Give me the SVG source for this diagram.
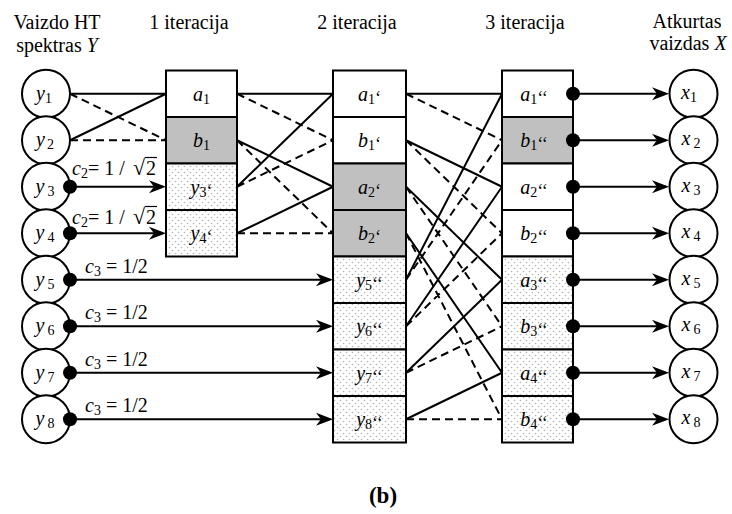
<svg xmlns="http://www.w3.org/2000/svg" width="732" height="514" viewBox="0 0 732 514">
<style>
.t{font-family:"Liberation Serif","Times New Roman",serif;font-size:20px;fill:#000}
.i{font-style:italic}
.sb{font-size:14px}
.cell{stroke:#000;stroke-width:2}
.w{fill:#fff}.g{fill:#c0c0c0}.p{fill:url(#dots)}
.circ{fill:#fff;stroke:#000;stroke-width:2}
.s{fill:none;stroke:#000;stroke-width:2}
.d{fill:none;stroke:#000;stroke-width:2;stroke-dasharray:8 5}
.a{fill:none;stroke:#000;stroke-width:2;marker-end:url(#arr)}
.dot{fill:#000}
</style>
<defs>
<pattern id="dots" width="6" height="6" patternUnits="userSpaceOnUse"><rect width="6" height="6" fill="#fff"/><circle cx="1.5" cy="1.5" r="0.8" fill="#b4b4b4"/><circle cx="4.5" cy="4.5" r="0.8" fill="#b4b4b4"/></pattern>
<marker id="arr" markerUnits="userSpaceOnUse" markerWidth="17" markerHeight="14" viewBox="0 0 17 14" refX="14" refY="7" orient="auto"><path d="M0,0.5 L17,7 L0,13.5 L5,7 Z" fill="#000"/></marker>
</defs>
<rect width="732" height="514" fill="#fff"/>

<g id="headers">
<text class="t" x="57" y="29" text-anchor="middle">Vaizdo HT</text>
<text class="t" x="57" y="52" text-anchor="middle">spektras <tspan class="i">Y</tspan></text>
<text class="t" x="189" y="29" text-anchor="middle">1 iteracija</text>
<text class="t" x="357" y="29" text-anchor="middle">2 iteracija</text>
<text class="t" x="525" y="29" text-anchor="middle">3 iteracija</text>
<text class="t" x="687" y="28" text-anchor="middle">Atkurtas</text>
<text class="t" x="688" y="50" text-anchor="middle">vaizdas <tspan class="i">X</tspan></text>
</g>

<g id="inputs">
<g id="y1"><circle class="circ" cx="46" cy="93.75" r="24"/><text class="t" x="44" y="99.75" text-anchor="middle"><tspan class="i">y</tspan><tspan class="sb" dy="3">1</tspan></text></g>
<g id="y2"><circle class="circ" cx="46" cy="140.25" r="24"/><text class="t" x="45" y="146.25" text-anchor="middle"><tspan class="i">y</tspan><tspan class="sb" dx="2" dy="3">2</tspan></text></g>
<g id="y3"><circle class="circ" cx="46" cy="186.75" r="24"/><text class="t" x="45" y="192.75" text-anchor="middle"><tspan class="i">y</tspan><tspan class="sb" dx="3" dy="3">3</tspan></text></g>
<g id="y4"><circle class="circ" cx="46" cy="233.25" r="24"/><text class="t" x="45" y="239.25" text-anchor="middle"><tspan class="i">y</tspan><tspan class="sb" dx="3" dy="3">4</tspan></text></g>
<g id="y5"><circle class="circ" cx="46" cy="279.75" r="24"/><text class="t" x="45" y="285.75" text-anchor="middle"><tspan class="i">y</tspan><tspan class="sb" dx="3" dy="3">5</tspan></text></g>
<g id="y6"><circle class="circ" cx="46" cy="326.25" r="24"/><text class="t" x="45" y="332.25" text-anchor="middle"><tspan class="i">y</tspan><tspan class="sb" dx="3" dy="3">6</tspan></text></g>
<g id="y7"><circle class="circ" cx="46" cy="372.75" r="24"/><text class="t" x="45" y="378.75" text-anchor="middle"><tspan class="i">y</tspan><tspan class="sb" dx="3" dy="3">7</tspan></text></g>
<g id="y8"><circle class="circ" cx="46" cy="419.25" r="24"/><text class="t" x="45" y="425.25" text-anchor="middle"><tspan class="i">y</tspan><tspan class="sb" dx="3" dy="3">8</tspan></text></g>
</g>

<g id="iter1">
<g id="c1a1"><rect class="cell w" x="166" y="70.5" width="71" height="46.5"/><text class="t" x="201.5" y="100.75" text-anchor="middle"><tspan class="i">a</tspan><tspan class="sb" dy="3">1</tspan></text></g>
<g id="c1b1"><rect class="cell g" x="166" y="117" width="71" height="46.5"/><text class="t" x="201.5" y="147.25" text-anchor="middle"><tspan class="i">b</tspan><tspan class="sb" dy="3">1</tspan></text></g>
<g id="c1y3"><rect class="cell p" x="166" y="163.5" width="71" height="46.5"/><text class="t" x="201.5" y="193.75" text-anchor="middle"><tspan class="i">y</tspan><tspan class="sb" dy="3">3</tspan><tspan font-size="18">‘</tspan></text></g>
<g id="c1y4"><rect class="cell p" x="166" y="210" width="71" height="46.5"/><text class="t" x="201.5" y="240.25" text-anchor="middle"><tspan class="i">y</tspan><tspan class="sb" dy="3">4</tspan><tspan font-size="18">‘</tspan></text></g>
</g>

<g id="iter2">
<g id="c2a1"><rect class="cell w" x="333" y="70.5" width="73" height="46.5"/><text class="t" x="369.5" y="100.75" text-anchor="middle"><tspan class="i">a</tspan><tspan class="sb" dy="3">1</tspan><tspan font-size="18">‘</tspan></text></g>
<g id="c2b1"><rect class="cell w" x="333" y="117" width="73" height="46.5"/><text class="t" x="369.5" y="147.25" text-anchor="middle"><tspan class="i">b</tspan><tspan class="sb" dy="3">1</tspan><tspan font-size="18">‘</tspan></text></g>
<g id="c2a2"><rect class="cell g" x="333" y="163.5" width="73" height="46.5"/><text class="t" x="369.5" y="193.75" text-anchor="middle"><tspan class="i">a</tspan><tspan class="sb" dy="3">2</tspan><tspan font-size="18">‘</tspan></text></g>
<g id="c2b2"><rect class="cell g" x="333" y="210" width="73" height="46.5"/><text class="t" x="369.5" y="240.25" text-anchor="middle"><tspan class="i">b</tspan><tspan class="sb" dy="3">2</tspan><tspan font-size="18">‘</tspan></text></g>
<g id="c2y5"><rect class="cell p" x="333" y="256.5" width="73" height="46.5"/><text class="t" x="369.5" y="286.75" text-anchor="middle"><tspan class="i">y</tspan><tspan class="sb" dy="3">5</tspan><tspan font-size="18">‘‘</tspan></text></g>
<g id="c2y6"><rect class="cell p" x="333" y="303" width="73" height="46.5"/><text class="t" x="369.5" y="333.25" text-anchor="middle"><tspan class="i">y</tspan><tspan class="sb" dy="3">6</tspan><tspan font-size="18">‘‘</tspan></text></g>
<g id="c2y7"><rect class="cell p" x="333" y="349.5" width="73" height="46.5"/><text class="t" x="369.5" y="379.75" text-anchor="middle"><tspan class="i">y</tspan><tspan class="sb" dy="3">7</tspan><tspan font-size="18">‘‘</tspan></text></g>
<g id="c2y8"><rect class="cell p" x="333" y="396" width="73" height="46.5"/><text class="t" x="369.5" y="426.25" text-anchor="middle"><tspan class="i">y</tspan><tspan class="sb" dy="3">8</tspan><tspan font-size="18">‘‘</tspan></text></g>
</g>

<g id="iter3">
<g id="c3a1"><rect class="cell w" x="502" y="70.5" width="71" height="46.5"/><text class="t" x="534" y="100.75" text-anchor="middle"><tspan class="i">a</tspan><tspan class="sb" dy="3">1</tspan><tspan font-size="18">‘‘</tspan></text></g>
<g id="c3b1"><rect class="cell g" x="502" y="117" width="71" height="46.5"/><text class="t" x="534" y="147.25" text-anchor="middle"><tspan class="i">b</tspan><tspan class="sb" dy="3">1</tspan><tspan font-size="18">‘‘</tspan></text></g>
<g id="c3a2"><rect class="cell w" x="502" y="163.5" width="71" height="46.5"/><text class="t" x="534" y="193.75" text-anchor="middle"><tspan class="i">a</tspan><tspan class="sb" dy="3">2</tspan><tspan font-size="18">‘‘</tspan></text></g>
<g id="c3b2"><rect class="cell w" x="502" y="210" width="71" height="46.5"/><text class="t" x="534" y="240.25" text-anchor="middle"><tspan class="i">b</tspan><tspan class="sb" dy="3">2</tspan><tspan font-size="18">‘‘</tspan></text></g>
<g id="c3a3"><rect class="cell p" x="502" y="256.5" width="71" height="46.5"/><text class="t" x="534" y="286.75" text-anchor="middle"><tspan class="i">a</tspan><tspan class="sb" dy="3">3</tspan><tspan font-size="18">‘‘</tspan></text></g>
<g id="c3b3"><rect class="cell p" x="502" y="303" width="71" height="46.5"/><text class="t" x="534" y="333.25" text-anchor="middle"><tspan class="i">b</tspan><tspan class="sb" dy="3">3</tspan><tspan font-size="18">‘‘</tspan></text></g>
<g id="c3a4"><rect class="cell p" x="502" y="349.5" width="71" height="46.5"/><text class="t" x="534" y="379.75" text-anchor="middle"><tspan class="i">a</tspan><tspan class="sb" dy="3">4</tspan><tspan font-size="18">‘‘</tspan></text></g>
<g id="c3b4"><rect class="cell p" x="502" y="396" width="71" height="46.5"/><text class="t" x="534" y="426.25" text-anchor="middle"><tspan class="i">b</tspan><tspan class="sb" dy="3">4</tspan><tspan font-size="18">‘‘</tspan></text></g>
</g>

<g id="outputs">
<g id="x1"><circle class="circ" cx="693.5" cy="93.75" r="24"/><text class="t" x="689" y="98.75" text-anchor="middle"><tspan class="i">x</tspan><tspan class="sb" dy="3">1</tspan></text></g>
<g id="x2"><circle class="circ" cx="693.5" cy="140.25" r="24"/><text class="t" x="691" y="145.25" text-anchor="middle"><tspan class="i">x</tspan><tspan class="sb" dx="3" dy="3">2</tspan></text></g>
<g id="x3"><circle class="circ" cx="693.5" cy="186.75" r="24"/><text class="t" x="691" y="191.75" text-anchor="middle"><tspan class="i">x</tspan><tspan class="sb" dx="3" dy="3">3</tspan></text></g>
<g id="x4"><circle class="circ" cx="693.5" cy="233.25" r="24"/><text class="t" x="691" y="238.25" text-anchor="middle"><tspan class="i">x</tspan><tspan class="sb" dx="3" dy="3">4</tspan></text></g>
<g id="x5"><circle class="circ" cx="693.5" cy="279.75" r="24"/><text class="t" x="691" y="284.75" text-anchor="middle"><tspan class="i">x</tspan><tspan class="sb" dx="3" dy="3">5</tspan></text></g>
<g id="x6"><circle class="circ" cx="693.5" cy="326.25" r="24"/><text class="t" x="691" y="331.25" text-anchor="middle"><tspan class="i">x</tspan><tspan class="sb" dx="3" dy="3">6</tspan></text></g>
<g id="x7"><circle class="circ" cx="693.5" cy="372.75" r="24"/><text class="t" x="691" y="377.75" text-anchor="middle"><tspan class="i">x</tspan><tspan class="sb" dx="3" dy="3">7</tspan></text></g>
<g id="x8"><circle class="circ" cx="693.5" cy="419.25" r="24"/><text class="t" x="691" y="424.25" text-anchor="middle"><tspan class="i">x</tspan><tspan class="sb" dx="3" dy="3">8</tspan></text></g>
</g>

<g id="connectors">
<path class="s" d="M70 93.75H166M70 140.25L166 93.75"/>
<path class="d" d="M70 93.75L166 140.25M70 140.25H166"/>
<path class="a" d="M70 186.75H163"/>
<path class="a" d="M70 233.25H163"/>
<path class="a" d="M70 279.75H330"/>
<path class="a" d="M70 326.25H330"/>
<path class="a" d="M70 372.75H330"/>
<path class="a" d="M70 419.25H330"/>

<path class="s" d="M237 93.75H333M237 186.75L333 93.75M237 140.25L333 186.75M237 233.25L333 186.75"/>
<path class="d" d="M237 93.75L333 140.25M237 186.75L333 140.25M237 140.25L333 233.25M237 233.25H333"/>

<path class="s" d="M406 93.75H502M406 279.75L502 93.75M406 140.25L502 186.75M406 326.25L502 186.75M406 186.75L502 279.75M406 372.75L502 279.75M406 233.25L502 372.75M406 419.25L502 372.75"/>
<path class="d" d="M406 93.75L502 140.25M406 279.75L502 140.25M406 140.25L502 233.25M406 326.25L502 233.25M406 186.75L502 326.25M406 372.75L502 326.25M406 233.25L502 419.25M406 419.25H502"/>

<path class="a" d="M573 93.75H666"/>
<path class="a" d="M573 140.25H666"/>
<path class="a" d="M573 186.75H666"/>
<path class="a" d="M573 233.25H666"/>
<path class="a" d="M573 279.75H666"/>
<path class="a" d="M573 326.25H666"/>
<path class="a" d="M573 372.75H666"/>
<path class="a" d="M573 419.25H666"/>

<circle class="dot" cx="70" cy="186.75" r="7"/>
<circle class="dot" cx="70" cy="233.25" r="7"/>
<circle class="dot" cx="70" cy="279.75" r="7"/>
<circle class="dot" cx="70" cy="326.25" r="7"/>
<circle class="dot" cx="70" cy="372.75" r="7"/>
<circle class="dot" cx="70" cy="419.25" r="7"/>
<circle class="dot" cx="573" cy="93.75" r="7"/>
<circle class="dot" cx="573" cy="140.25" r="7"/>
<circle class="dot" cx="573" cy="186.75" r="7"/>
<circle class="dot" cx="573" cy="233.25" r="7"/>
<circle class="dot" cx="573" cy="279.75" r="7"/>
<circle class="dot" cx="573" cy="326.25" r="7"/>
<circle class="dot" cx="573" cy="372.75" r="7"/>
<circle class="dot" cx="573" cy="419.25" r="7"/>
</g>

<g id="coefficients">
<text class="t" x="72" y="175"><tspan class="i">c</tspan><tspan class="sb" dy="3">2</tspan><tspan dy="-3">= 1 / </tspan></text>
<text class="t" x="133" y="175" style="font-size:22px">√</text><text class="t" x="146" y="175">2</text>
<line x1="145" y1="157.5" x2="157" y2="157.5" stroke="#000" stroke-width="1.2"/>
<text class="t" x="72" y="224"><tspan class="i">c</tspan><tspan class="sb" dy="3">2</tspan><tspan dy="-3">= 1 / </tspan></text>
<text class="t" x="133" y="224" style="font-size:22px">√</text><text class="t" x="146" y="224">2</text>
<line x1="145" y1="206.5" x2="157" y2="206.5" stroke="#000" stroke-width="1.2"/>
<text class="t" x="85" y="272.75"><tspan class="i">c</tspan><tspan class="sb" dy="3">3</tspan><tspan dy="-3"> = 1/2</tspan></text>
<text class="t" x="85" y="319.25"><tspan class="i">c</tspan><tspan class="sb" dy="3">3</tspan><tspan dy="-3"> = 1/2</tspan></text>
<text class="t" x="85" y="365.75"><tspan class="i">c</tspan><tspan class="sb" dy="3">3</tspan><tspan dy="-3"> = 1/2</tspan></text>
<text class="t" x="85" y="412.25"><tspan class="i">c</tspan><tspan class="sb" dy="3">3</tspan><tspan dy="-3"> = 1/2</tspan></text>
</g>

<text class="t" x="383" y="503" text-anchor="middle" style="font-size:23px;font-weight:bold">(b)</text>
</svg>
